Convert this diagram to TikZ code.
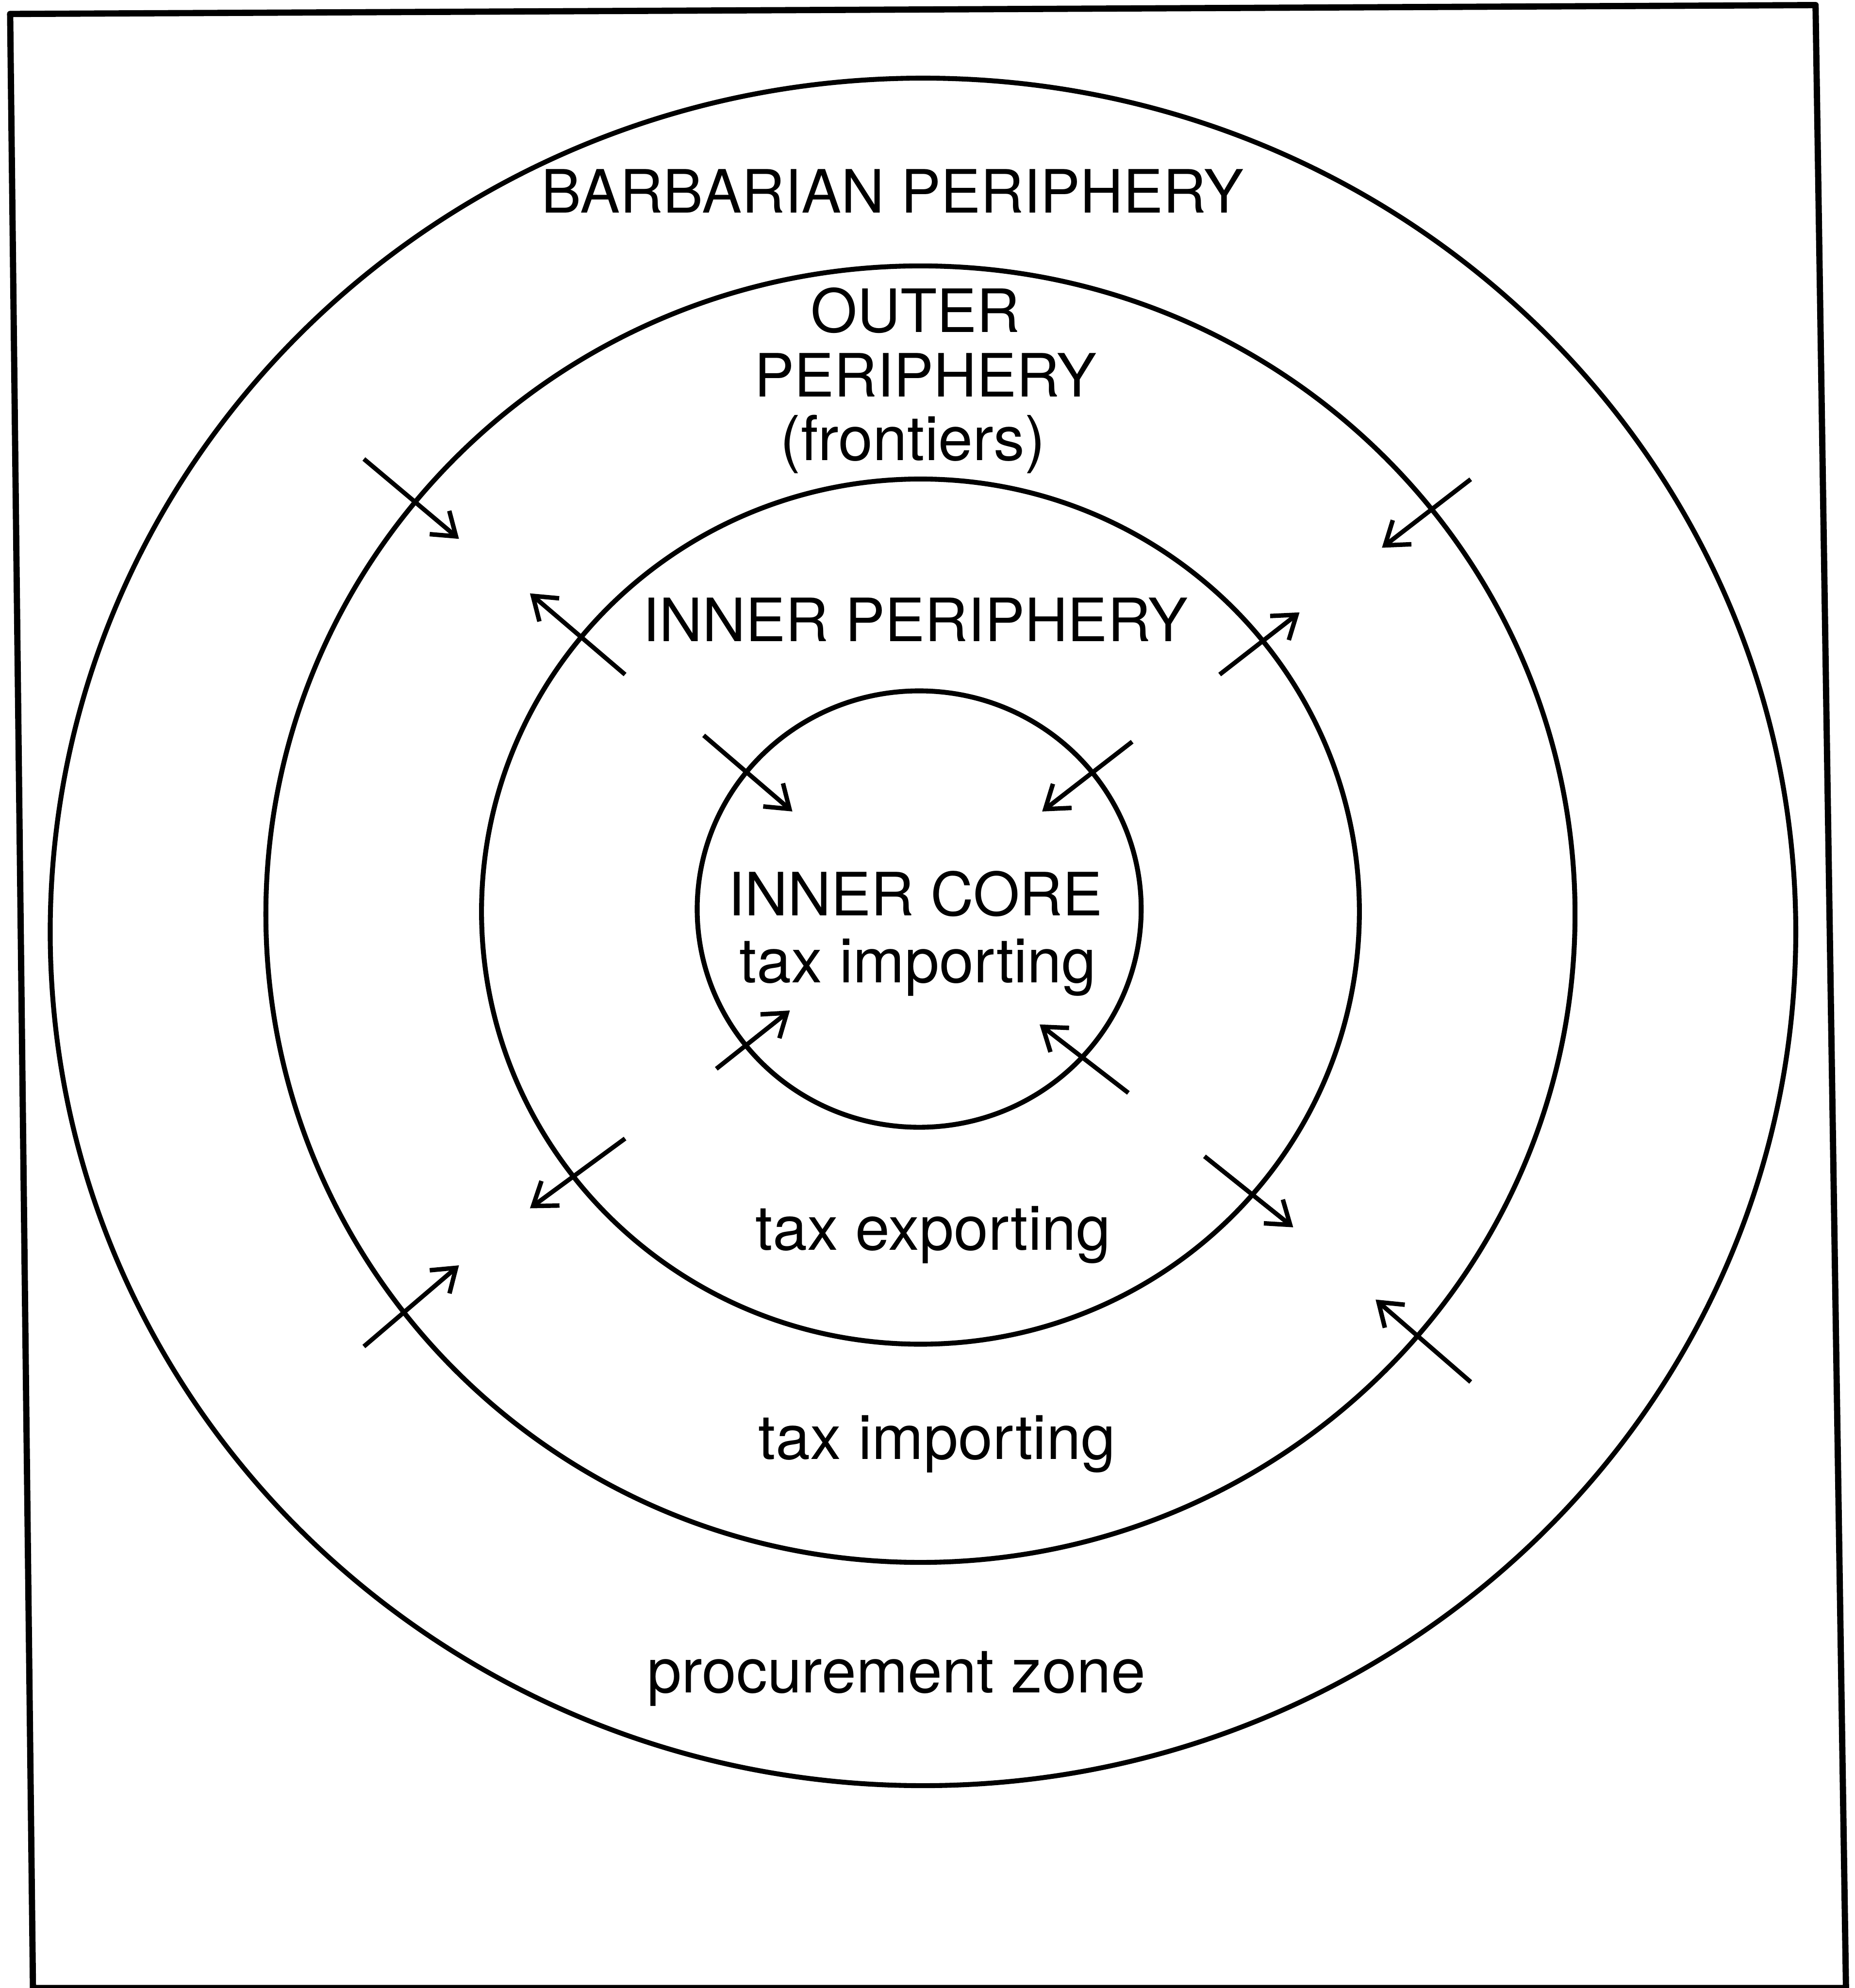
\documentclass[tikz,border=0pt]{standalone}
\usepackage{fontspec}
\setmainfont{TeX Gyre Heros}
\usetikzlibrary{arrows.meta}
\begin{document}
\begin{tikzpicture}[x=0.01cm,y=-0.01cm,
  ring/.style={line width=1.1pt},
  frame/.style={line width=1.4pt, line join=round},
  arr/.style={line width=1pt, -{Straight Barb[length=1.7mm,width=2.4mm,line width=1pt]}},
  lbl/.style={anchor=base, inner sep=0pt, font=\fontsize{13.4}{15}\selectfont},
  lbls/.style={anchor=base, inner sep=0pt, font=\fontsize{13.9}{15}\selectfont}]
\useasboundingbox (0,0) rectangle (1463,1568);
% frame
\coordinate (tl) at (8,11);
\coordinate (tr) at (1432,4);
\coordinate (br) at (1456,1568);
\coordinate (bl) at (26,1568);
\draw[frame] (tl) -- (tr) -- (br) -- (bl) -- cycle;
% rings
\coordinate (c1) at (728,735);
\coordinate (c2) at (726,721);
\coordinate (c3) at (726,719);
\coordinate (c4) at (725,717);
\draw[ring] (c1) ellipse [x radius=6.88cm, y radius=6.73cm];
\draw[ring] (c2) ellipse [x radius=5.16cm, y radius=5.11cm];
\draw[ring] (c3) ellipse [x radius=3.46cm, y radius=3.41cm];
\draw[ring] (c4) ellipse [x radius=1.75cm, y radius=1.72cm];
% labels
\node[lbl] (barb) at (704,168) {BARBARIAN PERIPHERY};
\node[lbl] (outer1) at (722,262) {OUTER};
\node[lbl] (outer2) at (730,313) {PERIPHERY};
\node[lbls] (outer3) at (720,363) {(frontiers)};
\node[lbl] (innerp) at (722,506) {INNER PERIPHERY};
\node[lbl] (core1) at (722,722) {INNER CORE};
\node[lbls] (core2) at (724,775) {tax importing};
\node[lbls] (texp) at (736,986) {tax exporting};
\node[lbls] (timp) at (739,1151) {tax importing};
\node[lbls] (proc) at (707,1335) {procurement zone};
% arrow end points
\coordinate (a1s) at (287,362);  \coordinate (a1e) at (362,425);
\coordinate (a2s) at (1160,378); \coordinate (a2e) at (1090,432);
\coordinate (a3s) at (493,532);  \coordinate (a3e) at (418,468);
\coordinate (a4s) at (962,532);  \coordinate (a4e) at (1025,483);
\coordinate (a5s) at (555,580);  \coordinate (a5e) at (625,640);
\coordinate (a6s) at (893,585);  \coordinate (a6e) at (822,640);
\coordinate (a7s) at (565,843);  \coordinate (a7e) at (623,797);
\coordinate (a8s) at (890,862);  \coordinate (a8e) at (820,808);
\coordinate (a9s) at (493,898);  \coordinate (a9e) at (418,953);
\coordinate (a10s) at (950,912); \coordinate (a10e) at (1020,968);
\coordinate (a11s) at (287,1062);\coordinate (a11e) at (362,998);
\coordinate (a12s) at (1160,1090);\coordinate (a12e) at (1085,1025);
\foreach \i in {1,...,12} \draw[arr] (a\i s) -- (a\i e);
\end{tikzpicture}
\end{document}
